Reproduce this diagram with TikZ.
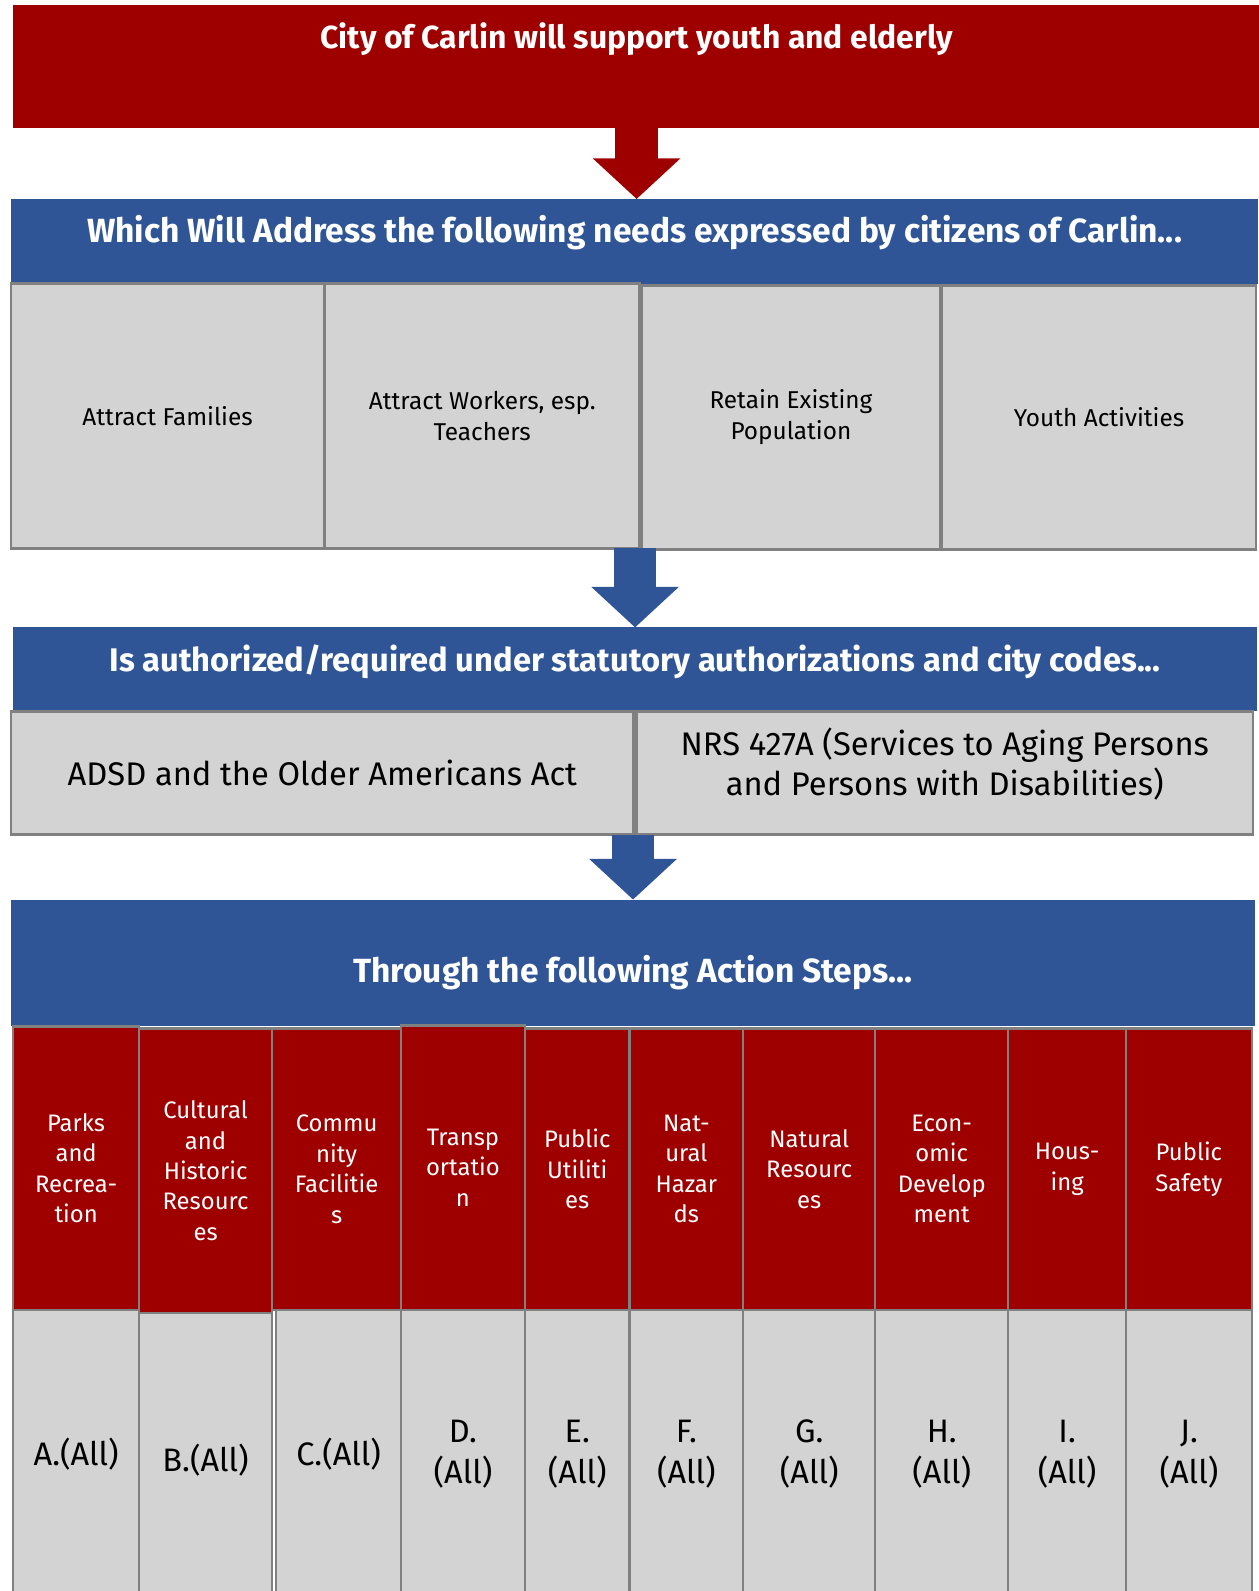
\documentclass[tikz,border=0pt]{standalone}
\usepackage{fontspec}
\setmainfont{Fira Sans}
\usepackage{tikz}
\usetikzlibrary{
    arrows.meta
}
\definecolor{carlinred}{RGB}{158,0,0}
\definecolor{carlinblue}{RGB}{47,85,151}
\definecolor{cellgray}{RGB}{211,211,211}
\definecolor{edgegray}{RGB}{128,128,128}
\tikzset{
    >=Triangle,
    box/.style={anchor=north west, inner sep=0pt, outer sep=0pt, align=center},
    titlebox/.style={box, fill=carlinred},
    headbox/.style={box, fill=carlinblue},
    titletext/.style={text=white, font=\bfseries\fontsize{33}{40}\selectfont},
    cellbox/.style={box, draw=edgegray, line width=2.5pt, fill=cellgray},
    needbox/.style={cellbox, font=\fontsize{24}{30.5}\selectfont},
    lawbox/.style={cellbox, font=\fontsize{32.2}{39.5}\selectfont},
    lawtext/.style={align=center, font=\fontsize{32.2}{39.5}\selectfont},
    stepbox/.style={cellbox, fill=carlinred, text=white, font=\fontsize{23.5}{30}\selectfont},
    allbox/.style={cellbox, minimum height=310},
    alltext/.style={align=center, yshift=13, font=\fontsize{32}{40}\selectfont},
    bigred/.style={carlinred, line width=42pt, -{Triangle[length=40pt, width=84pt]}},
    bigblue/.style={bigred, carlinblue},
}

\begin{document}
\begin{tikzpicture}[x=1pt,y=-1pt]
    \useasboundingbox (0,0) rectangle (1240,1567);
    \clip (0,0) rectangle (1240,1567);

    % headings
    \node[titlebox, minimum width=1228, minimum height=121,
          label={[titletext, yshift=27, font=\bfseries\fontsize{31.4}{40}\selectfont]center:City of Carlin will support youth and elderly}] (city) at (13,5) {};
    \node[headbox, minimum width=1228, minimum height=84,
          label={[titletext, yshift=9]center:Which Will Address the following needs expressed by citizens of Carlin...}] (needs) at (11,196) {};
    \node[headbox, minimum width=1225, minimum height=82,
          label={[titletext, yshift=7, font=\bfseries\fontsize{32.2}{40}\selectfont]center:Is authorized/required under statutory authorizations and city codes...}] (auth) at (13,618) {};
    \node[headbox, minimum width=1225, minimum height=125,
          label={[titletext, yshift=-9]center:Through the following Action Steps...}] (steps) at (11,886) {};

    % needs
    \node[needbox, minimum width=308, minimum height=261] (families) at (11,279) {Attract Families};
    \node[needbox, minimum width=310, minimum height=261] (workers) at (320,279) {Attract Workers, esp.\\Teachers};
    \node[needbox, minimum width=294, minimum height=260] (retain) at (632,281) {Retain Existing\\Population};
    \node[needbox, minimum width=309, minimum height=260] (youth) at (928,281) {Youth Activities};

    % authorizations
    \node[lawbox, minimum width=613, minimum height=121] (adsd) at (11,701) {ADSD and the Older Americans Act};
    \node[lawbox, minimum width=607, minimum height=121,
          label={[lawtext, yshift=9]center:NRS 427A (Services to Aging Persons\\and Persons with Disabilities)}] (nrs) at (627,701) {};

    % action steps
    \node[stepbox, minimum width=124, minimum height=279] (parks) at (13,1011) {Parks\\and\\Recrea-\\tion};
    \node[stepbox, minimum width=131, minimum height=280] (cultural) at (137,1013) {Cultural\\and\\Historic\\Resourc\\es};
    \node[stepbox, minimum width=127, minimum height=277] (community) at (268,1013) {Commu\\nity\\Facilitie\\s};
    \node[stepbox, minimum width=122, minimum height=280] (transport) at (395,1010) {Transp\\ortatio\\n};
    \node[stepbox, minimum width=103, minimum height=277] (utilities) at (517,1013) {Public\\Utiliti\\es};
    \node[stepbox, minimum width=112, minimum height=277] (hazards) at (620,1013) {Nat-\\ural\\Hazar\\ds};
    \node[stepbox, minimum width=130, minimum height=277] (natres) at (732,1013) {Natural\\Resourc\\es};
    \node[stepbox, minimum width=131, minimum height=277] (econ) at (862,1013) {Econ-\\omic\\Develop\\ment};
    \node[stepbox, minimum width=116, minimum height=277] (housing) at (993,1013) {Hous-\\ing};
    \node[stepbox, minimum width=124, minimum height=277] (safety) at (1109,1013) {Public\\Safety};

    % (All) cells
    \node[allbox, minimum width=124, label={[alltext]center:A.(All)}] (all_a) at (13,1290) {};
    \node[allbox, minimum width=131, label={[alltext, yshift=-3]center:B.(All)}] (all_b) at (137,1293) {};
    \node[allbox, minimum width=123, label={[alltext]center:C.(All)}] (all_c) at (272,1290) {};
    \node[allbox, minimum width=122, label={[alltext]center:D.\\(All)}] (all_d) at (395,1290) {};
    \node[allbox, minimum width=103, label={[alltext]center:E.\\(All)}] (all_e) at (517,1290) {};
    \node[allbox, minimum width=112, label={[alltext]center:F.\\(All)}] (all_f) at (620,1290) {};
    \node[allbox, minimum width=130, label={[alltext]center:G.\\(All)}] (all_g) at (732,1290) {};
    \node[allbox, minimum width=131, label={[alltext]center:H.\\(All)}] (all_h) at (862,1290) {};
    \node[allbox, minimum width=116, label={[alltext]center:I.\\(All)}] (all_i) at (993,1290) {};
    \node[allbox, minimum width=124, label={[alltext]center:J.\\(All)}] (all_j) at (1109,1290) {};

    % arrows
    \draw[bigred] (city.south) -- (city.south |- needs.north);
    \draw[bigblue] (workers.south -| auth.north) -- (auth.north);
    \draw[bigblue] (adsd.south -| steps.north) -- (steps.north);
\end{tikzpicture}
\end{document}
